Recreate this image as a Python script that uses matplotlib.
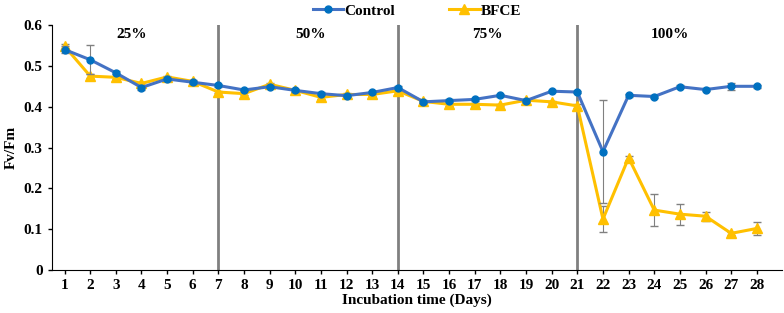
import numpy as np
import matplotlib.pyplot as plt
from matplotlib.lines import Line2D

days = np.arange(1, 29)
control = [0.540, 0.515, 0.483, 0.447, 0.468, 0.460, 0.452, 0.441, 0.449, 0.440,
           0.432, 0.427, 0.435, 0.447, 0.412, 0.415, 0.418, 0.428, 0.415, 0.438,
           0.436, 0.290, 0.428, 0.425, 0.449, 0.442, 0.450, 0.450]
control_err = [0.008, 0.035, 0.004, 0.005, 0.004, 0.004, 0.003, 0.003, 0.004, 0.003,
               0.003, 0.003, 0.003, 0.003, 0.003, 0.003, 0.003, 0.003, 0.003, 0.003,
               0.003, 0.126, 0.004, 0.003, 0.003, 0.003, 0.008, 0.003]
bfce = [0.548, 0.475, 0.472, 0.457, 0.473, 0.462, 0.436, 0.432, 0.455, 0.440,
        0.423, 0.430, 0.430, 0.439, 0.413, 0.406, 0.406, 0.404, 0.416, 0.412,
        0.402, 0.125, 0.275, 0.147, 0.137, 0.132, 0.090, 0.102]
bfce_err = [0.005, 0.004, 0.003, 0.003, 0.003, 0.003, 0.003, 0.003, 0.003, 0.003,
            0.003, 0.003, 0.003, 0.003, 0.003, 0.003, 0.003, 0.003, 0.003, 0.003,
            0.004, 0.032, 0.005, 0.040, 0.026, 0.011, 0.004, 0.017]
phase_days = [7, 14, 21]
phase_labels = ['25%', '50%', '75%', '100%']
phase_label_x = [3.6, 10.6, 17.5, 24.6]

plt.rcParams['font.family'] = ['Liberation Serif', 'DejaVu Serif']
plt.rcParams['font.weight'] = 'bold'

fig = plt.figure(figsize=(7.84, 3.13), dpi=100)
ax = fig.add_axes([0.066, 0.137, 0.932, 0.783])

for d in phase_days:
    ax.axvline(d, color='#808080', lw=2, zorder=1)

ax.errorbar(days, control, yerr=control_err, color='#4472C4', lw=2.2,
            marker='o', ms=5, mfc='#0070C0', mec='#0070C0',
            ecolor='#808080', elinewidth=0.8, capsize=3, zorder=3)
ax.errorbar(days, bfce, yerr=bfce_err, color='#FFC000', lw=2.2,
            marker='^', ms=7, mfc='#FFC000', mec='#FFC000',
            ecolor='#808080', elinewidth=0.8, capsize=3, zorder=2)

for x, t in zip(phase_label_x, phase_labels):
    ax.text(x, 0.578, t, ha='center', va='center', fontsize=11, fontweight='bold')

ax.set_xlim(0.5, 29)
ax.set_ylim(0, 0.6)
ax.set_xticks(days)
ax.set_yticks([0, 0.1, 0.2, 0.3, 0.4, 0.5, 0.6])
ax.set_yticklabels(['0', '0.1', '0.2', '0.3', '0.4', '0.5', '0.6'])
ax.tick_params(labelsize=11, length=3, width=1)
for lab in ax.get_xticklabels() + ax.get_yticklabels():
    lab.set_fontweight('bold')
ax.spines['top'].set_visible(False)
ax.spines['right'].set_visible(False)
ax.set_xlabel('Incubation time (Days)', fontsize=11, fontweight='bold', labelpad=1)
ax.set_ylabel('Fv/Fm', fontsize=11, fontweight='bold', labelpad=4)

handles = [Line2D([], [], color='#4472C4', lw=2.2, marker='o', ms=5,
                  mfc='#0070C0', mec='#0070C0'),
           Line2D([], [], color='#FFC000', lw=2.2, marker='^', ms=7,
                  mfc='#FFC000', mec='#FFC000')]
ax.legend(handles, ['Control', 'BFCE'], loc='lower center',
          bbox_to_anchor=(0.5, 1.005), ncol=2, frameon=False, fontsize=11,
          handlelength=2.0, handletextpad=0.1, columnspacing=3.5, borderaxespad=0)

fig.savefig('out.png', dpi=100)
